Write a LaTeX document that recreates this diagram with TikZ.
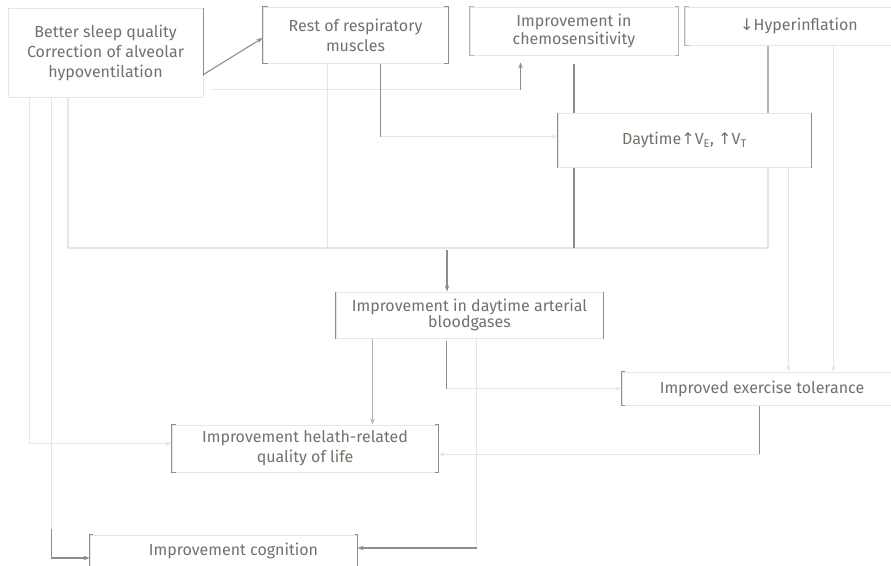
\documentclass[tikz,border=0pt]{standalone}
\usepackage{fontspec}
\setmainfont{Fira Sans}
\newfontfamily\symfont{DejaVu Sans}
\usetikzlibrary{arrows.meta,calc}

\definecolor{ink}{HTML}{72726A}
\definecolor{darkgray}{HTML}{8E8E86}
\definecolor{midgray}{HTML}{B4B4B0}
\definecolor{litegray}{HTML}{E6E6E4}

\tikzset{
  box/.style={draw=litegray, line width=1pt, text=ink, align=center,
    inner sep=0pt, font=\fontsize{16}{20}\selectfont},
  darkline/.style={draw=darkgray, line width=1.1pt},
  midline/.style={draw=midgray, line width=1.1pt},
  liteline/.style={draw=litegray, line width=1.4pt},
  tip/.style={-{Stealth[length=6pt,width=4.5pt]}},
}

\begin{document}
\begin{tikzpicture}[x=1pt,y=-1pt]
\useasboundingbox (0,0) rectangle (891,565);
\fill[white] (0,0) rectangle (891,565);

% boxes
\node[box, minimum width=195pt, minimum height=89pt] (sleep) at (105.5,52.5)
  {Better sleep quality\\Correction of alveolar\\hypoventilation};
\node[box, minimum width=185pt, minimum height=56pt] (rest) at (355.5,35)
  {Rest of respiratory\\muscles};
\node[box, minimum width=208pt, minimum height=48pt,
  font=\fontsize{16}{18}\selectfont] (chemo) at (574,31)
  {Improvement in\\chemosensitivity};
\node[box, minimum width=228pt, minimum height=38pt] (hyper) at (799,26)
  {{\symfont ↓}Hyperinflation};
\node[box, minimum width=253pt, minimum height=54pt] (vent) at (684.5,140)
  {Daytime{\symfont ↑}V\textsubscript{E}, {\symfont ↑}V\textsubscript{T}};
\node[box, minimum width=267pt, minimum height=46pt,
  font=\fontsize{16}{16}\selectfont] (gas) at (469.5,315)
  {Improvement in daytime arterial\\bloodgases};
\node[box, minimum width=280pt, minimum height=33pt] (exer) at (762,388.5)
  {Improved exercise tolerance};
\node[box, minimum width=266pt, minimum height=47pt] (qol) at (305,448.5)
  {Improvement helath-related\\quality of life};
\node[box, minimum width=267pt, minimum height=32pt] (cog) at (223.5,551)
  {\hspace*{20pt}Improvement cognition};

% darker box sides
\draw[darkline] (sleep.north east) -- ($(sleep.south east)+(0,-22)$);
\draw[darkline] ([xshift=5pt]rest.north west) -- (rest.north west) -- (rest.south west) -- ++(5,0);
\draw[darkline] ([xshift=-5pt]rest.north east) -- (rest.north east) -- (rest.south east) -- ++(-5,0);
\draw[midline] ([xshift=4pt]chemo.north west) -- (chemo.north west) -- (chemo.south west) -- ++(4,0);
\draw[midline] ([xshift=-4pt]chemo.north east) -- (chemo.north east) -- (chemo.south east) -- ++(-4,0);
\draw[midline] ([xshift=4pt]hyper.north west) -- (hyper.north west) -- (hyper.south west) -- ++(4,0);
\draw[darkline] (vent.north west) -- (vent.south west);
\draw[darkline] (vent.north east) -- (vent.south east);
\draw[darkline] (gas.north west) -- (gas.south west);
\draw[darkline] (gas.north east) -- (gas.south east);
\draw[darkline] ([xshift=3pt]exer.north west) -- (exer.north west) -- (exer.south west) -- ++(3,0);
\draw[darkline] ([xshift=4pt]qol.north west) -- (qol.north west) -- (qol.south west) -- ++(4,0);
\draw[darkline] ([xshift=-4pt]qol.north east) -- (qol.north east) -- (qol.south east) -- ++(-4,0);
\draw[darkline] ([xshift=3pt]cog.north west) -- (cog.north west) -- (cog.south west);
\draw[darkline] ([xshift=-3pt]cog.north east) -- (cog.north east) -- (cog.south east);

% junction points
\coordinate (busL) at (68,248);
\coordinate (busR) at (768,248);
\coordinate (bus)  at (447,248);
\coordinate (k1) at ($(chemo.south west)+(51,34)$);
\coordinate (k2) at ($(rest.south west)+(118,73)$);
\coordinate (r1) at ($(rest.south west)+(65,0)$);
\coordinate (v1) at ($(vent.south west)+(231,0)$);
\coordinate (h1) at ($(hyper.south west)+(149,0)$);
\coordinate (g1) at ($(gas.south west)+(37,0)$);
\coordinate (g2) at ($(gas.south west)+(111,0)$);
\coordinate (g3) at ($(gas.south west)+(141,0)$);
\coordinate (e1) at ($(exer.south west)+(138,0)$);
\coordinate (qe) at ($(qol.east)+(0,6)$);
\coordinate (qw) at ($(qol.west)+(0,-5)$);
\coordinate (s1) at ($(sleep.south west)+(22,0)$);
\coordinate (s2) at ($(sleep.south west)+(44,0)$);
\coordinate (s2b) at ($(cog.west)+(-38,-22)$);
\coordinate (cw) at ($(cog.west)+(0,7)$);
\coordinate (ce) at ($(cog.east)+(0,-3)$);

% sleep -> rest, sleep -> chemo
\draw[darkline,tip] ($(sleep.north east)+(0,67)$) -- ($(rest.west)+(0,3)$);
\draw[liteline] ($(sleep.south east)+(7,-8)$) -- (k1);
\draw[darkline,tip] (k1) -- ($(chemo.south west)+(51,7)$);

% rest -> vent
\draw[darkline] (rest.south -| k2) -- (k2);
\draw[liteline,tip] (k2) -- (vent.west |- k2);

% collecting line towards the blood gases
\draw[liteline] (sleep.south -| busL) -- (busL) -- (busR);
\draw[liteline] (r1) -- (r1 |- bus);
\draw[darkline,shorten <=8pt] (chemo.south) -- (vent.north -| chemo.south);
\draw[darkline] (vent.south -| chemo.south) -- (chemo.south |- bus);
\draw[midline] (hyper.south -| busR) -- (vent.north -| busR);
\draw[liteline] (vent.south -| busR) -- (busR);
\draw[darkline,tip,shorten <=2pt] (bus) -- (gas.north -| bus);

% towards exercise tolerance
\draw[liteline,tip] (v1) -- (exer.north -| v1);
\draw[liteline,tip] (h1) -- (exer.north -| h1);
\draw[darkline,shorten <=2pt] (g2) -- (g2 |- exer.west);
\draw[liteline,tip] (g2 |- exer.west) -- (exer.west);

% towards quality of life
\draw[midline,tip] (g1) -- (qol.north -| g1);
\draw[darkline] (e1) -- (e1 |- qe);
\draw[liteline,tip] (e1 |- qe) -- (qe);
\draw[liteline,tip] (s1) |- (qw);

% towards cognition
\draw[liteline] (g3) -- (g3 |- ce);
\draw[darkline,tip] (g3 |- ce) -- (ce);
\draw[liteline] (s2) -- (s2b);
\draw[darkline,tip] (s2b) |- (cw);
\end{tikzpicture}
\end{document}
